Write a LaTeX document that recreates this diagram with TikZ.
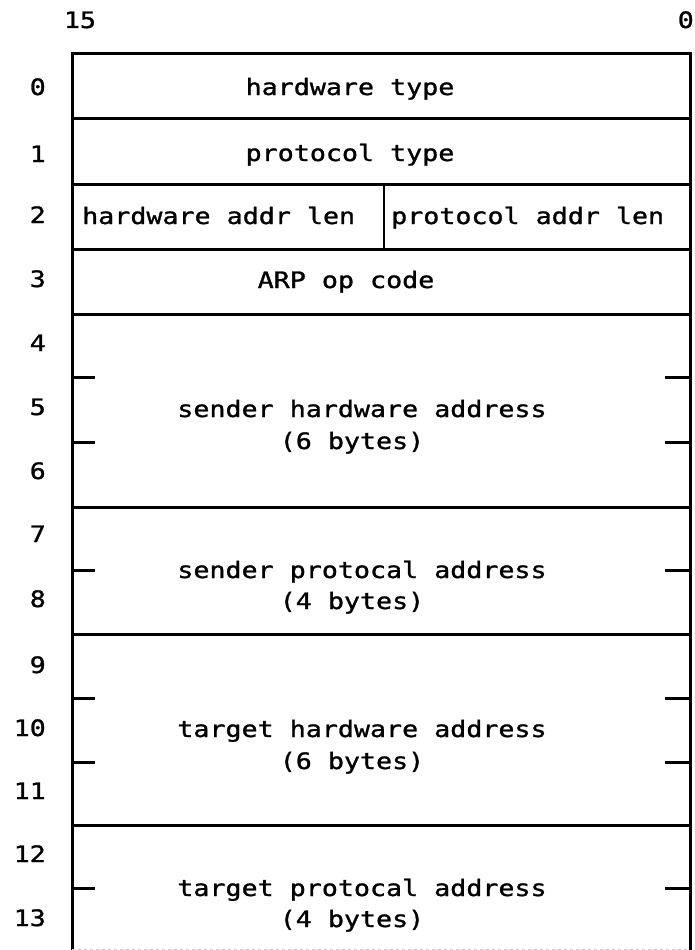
\documentclass[tikz,border=0pt]{standalone}
\usepackage{fontspec}
\newfontfamily\prt[FakeStretch=1.18,FakeBold=1.2]{DejaVu Sans Mono}
\begin{document}
\begin{tikzpicture}[x=1pt,y=-1pt,
  frame/.style={line width=3pt, line cap=rect},
  divider/.style={line width=2.2pt},
  tickmark/.style={line width=3pt},
  txt/.style={font=\prt\fontsize{22.6}{27}\selectfont, inner sep=0pt, anchor=base},
  rowlbl/.style={font=\prt\fontsize{22.6}{27}\selectfont, inner sep=0pt, anchor=base east}]
\useasboundingbox (0,0) rectangle (694,950);
\clip (0,0) rectangle (694,950);
% bit labels
\node[txt] (b15) at (80,28) {15};
\node[txt, anchor=base east] (b0) at (694,28) {0};
% frame
\draw[frame] (72,954) -- (72,54) -- (690,54) -- (690,954);
\draw[line width=1pt, gray!40, dashed] (72,949) -- (690,949);
\foreach \yy in {118,184,249,314,507,634,825}
  \draw[frame] (72,\yy) -- (690,\yy);
\draw[divider] (384,184) -- (384,249);
% ticks
\foreach \yy in {377,442,570,698,762,888}{
  \draw[tickmark] (72,\yy) -- (95,\yy);
  \draw[tickmark] (665,\yy) -- (690,\yy);
}
% row numbers
\foreach \k/\yy in {0/87,1/154,2/215,3/279,4/343,5/407,6/471,7/534,8/599,9/665,10/728,11/791,12/854,13/918}
  \node[rowlbl] (r\k) at (46,\yy+8) {\k};
% fields
\node[txt] (hwtype) at (350,95) {hardware type};
\node[txt] (prtype) at (350,161) {protocol type};
\node[txt, anchor=base west] (hwlen) at (82,224) {hardware addr len};
\node[txt, anchor=base west] (prlen) at (391,224) {protocol addr len};
\node[txt] (opcode) at (346,288) {ARP op code};
\node[txt] (sha) at (362,417) {sender hardware address};
\node[txt] (shab) at (352,449) {(6 bytes)};
\node[txt] (spa) at (362,578) {sender protocal address};
\node[txt] (spab) at (352,609) {(4 bytes)};
\node[txt] (tha) at (362,737) {target hardware address};
\node[txt] (thab) at (352,769) {(6 bytes)};
\node[txt] (tpa) at (362,896) {target protocal address};
\node[txt] (tpab) at (352,927) {(4 bytes)};
\end{tikzpicture}
\end{document}
